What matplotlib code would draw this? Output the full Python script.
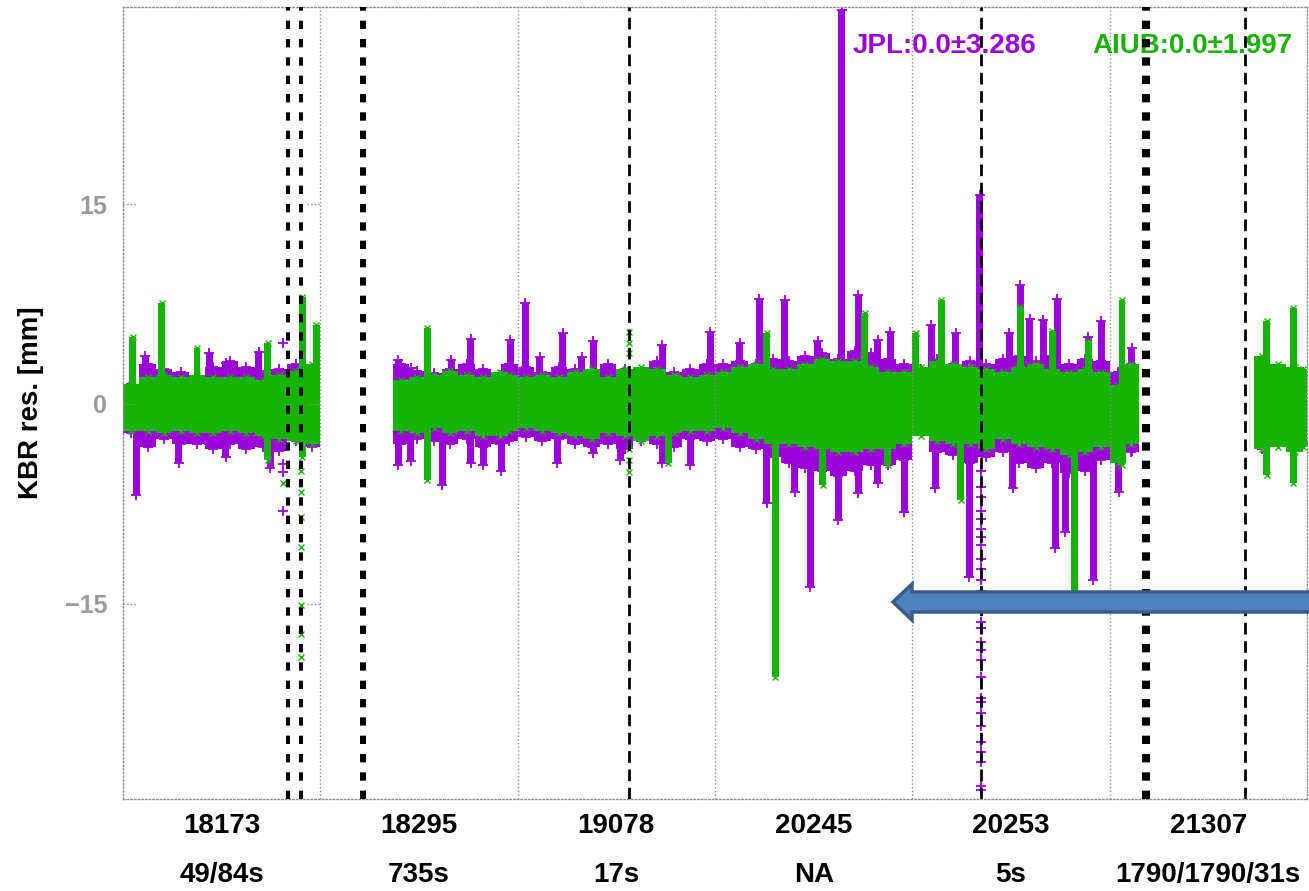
import numpy as np
import matplotlib
matplotlib.use('Agg')
import matplotlib.pyplot as plt
from matplotlib.patches import FancyArrow

plt.rcParams['font.family'] = ['Liberation Sans', 'DejaVu Sans']
plt.rcParams['font.weight'] = 'bold'
plt.rcParams['lines.scale_dashes'] = False

# x is in hours, one 24 h arc per panel
arc_date = ['18173', '18295', '19078', '20245', '20253', '21307']
arc_info = ['49/84s', '735s', '17s', 'NA', '5s', '1790/1790/31s']

# background band of the residuals (2 h bins)
base_x = [1, 3, 5, 7, 9, 11, 13, 15, 17, 19, 21, 23,
          33.8, 35.8, 37.8, 39.8, 41.8, 43.8, 45.8, 47.0,
          49, 51, 53, 55, 57, 59, 61, 63, 65, 67, 69, 71,
          73, 75, 77, 79, 81, 83, 85, 87, 89, 91, 93, 95,
          97, 99, 101, 103, 105, 107, 109, 111, 113, 115, 117, 119,
          121.0, 122.6,
          138.5, 140.5, 142.5, 143.5]
jpl_hi = [1.5, 3.0, 2.6, 2.4, 2.0, 2.8, 3.2, 2.8, 2.2, 2.6, 3.0, 2.5,
          3.0, 2.5, 2.3, 2.6, 3.0, 2.6, 2.2, 3.0,
          2.8, 2.4, 2.8, 2.6, 2.2, 3.0, 2.6, 2.4, 3.2, 2.4, 2.6, 3.0,
          3.0, 3.2, 3.0, 3.4, 3.2, 3.6, 3.8, 3.4, 4.0, 3.8, 3.4, 3.0,
          2.6, 3.4, 3.0, 3.2, 3.0, 3.4, 3.6, 3.2, 3.6, 3.0, 3.4, 3.2,
          2.4, 3.0,
          2.6, 2.0, 2.2, 2.4]
jpl_lo = [-2.2, -3.2, -2.6, -3.0, -3.0, -3.4, -3.0, -3.4, -3.2, -3.5, -2.8, -3.2,
          -3.0, -2.6, -2.8, -3.0, -2.6, -3.2, -3.0, -2.8,
          -2.5, -2.8, -2.6, -3.0, -3.2, -3.0, -3.4, -2.8, -3.0, -3.2, -2.6, -2.8,
          -2.6, -3.2, -3.4, -4.0, -4.4, -4.8, -5.0, -5.4, -5.0, -4.6, -4.6, -4.2,
          -1.8, -3.6, -3.8, -4.4, -4.0, -3.6, -4.4, -4.8, -4.4, -5.2, -5.0, -4.2,
          -4.0, -3.6,
          -3.4, -2.8, -3.2, -3.0]
aiub_hi = [1.5, 2.0, 2.2, 2.0, 2.2, 2.0, 2.0, 2.0, 1.8, 2.2, 2.5, 3.0,
           1.8, 2.0, 2.2, 2.5, 2.2, 2.0, 2.4, 2.2,
           2.0, 2.2, 2.0, 2.4, 2.6, 2.0, 2.6, 2.8, 2.6, 2.2, 2.0, 2.2,
           2.4, 2.8, 3.0, 2.6, 2.6, 3.0, 3.4, 3.2, 3.2, 2.8, 2.4, 2.4,
           2.8, 3.2, 3.0, 2.8, 2.6, 2.4, 2.8, 3.0, 2.6, 2.4, 2.6, 2.4,
           1.4, 3.0,
           3.6, 3.0, 2.8, 2.6]
aiub_lo = [-2.0, -2.0, -2.2, -2.0, -2.2, -2.2, -2.0, -2.2, -2.4, -2.6, -2.8, -3.0,
           -2.0, -2.2, -1.8, -2.2, -2.0, -2.4, -2.4, -2.0,
           -1.8, -2.0, -2.2, -2.4, -2.6, -2.2, -2.4, -2.8, -2.4, -2.2, -2.0, -2.0,
           -1.8, -2.2, -2.6, -3.0, -3.0, -3.2, -3.4, -3.6, -3.6, -3.4, -3.4, -3.0,
           -2.4, -2.8, -3.0, -3.0, -3.4, -2.6, -3.0, -3.2, -3.4, -3.8, -3.6, -3.2,
           -4.4, -3.0,
           -3.4, -3.2, -3.6, -3.2]

# short excursions
jpl_spk_x = [1.6, 2.7, 6.8, 10.5, 12.5, 16.5, 17.9,
             33.5, 35.0, 38.8, 39.9, 42.3, 43.8, 46.0, 47.1,
             48.9, 50.7, 52.8, 53.5, 55.8, 57.2, 60.5, 65.6, 69.0, 71.4,
             75.0, 77.4, 78.3, 80.5, 81.7, 83.6, 84.5, 87.0, 87.4, 89.4, 91.8, 93.3, 95.0,
             98.3, 98.8, 101.3, 102.9, 104.2, 107.8, 108.2, 109.1, 110.3, 111.9, 113.4,
             113.6, 114.6, 117.4, 118.0, 119.0,
             121.1, 122.7]
jpl_spk_top = [0, 3.6, 0, 3.8, 3.1, 3.9, 0,
               3.3, 2.7, 0, 3.3, 4.9, 0, 0, 4.8,
               7.6, 3.5, 0, 5.3, 3.5, 4.7, 0, 4.4, 0, 5.4,
               4.6, 7.9, 0, 7.8, 0, 0, 4.7, 0, 29.6, 8.2, 4.8, 5.4, 0,
               5.9, 0, 5.3, 0, 15.7, 5.3, 0, 8.9, 6.4, 6.3, 0,
               7.9, 0, 5.0, 0, 6.2,
               0, 4.2]
jpl_spk_bot = [-6.8, 0, -4.4, -3.0, -4.0, 0, -4.8,
               -4.6, -4.3, -6.1, 0, -4.4, -4.6, -5.0, 0,
               0, 0, -4.4, 0, 0, -3.7, -4.2, -4.4, -4.6, 0,
               0, 0, -7.4, 0, -6.6, -13.7, 0, -8.7, 0, -6.7, -5.9, 0, -8.1,
               0, -6.3, 0, -13.0, 0, 0, -6.3, 0, 0, 0, -10.8,
               0, -9.6, 0, -13.2, 0,
               -6.6, -3.5]

aiub_spk_x = [1.2, 4.7, 9.0, 17.6, 21.8, 23.5,
              37.0,
              66.3,
              78.3, 79.3, 85.1, 90.2, 93.0,
              96.4, 99.5, 101.9, 109.1, 113.0, 115.7, 117.4,
              121.5, 139.1, 142.3]
aiub_spk_top = [5.0, 7.6, 4.2, 4.6, 8.0, 5.9,
                5.7,
                0,
                5.3, 0, 0, 6.8, 0,
                5.3, 7.8, 0, 7.3, 5.5, 0, 4.7,
                7.8, 6.2, 7.2]
aiub_spk_bot = [0, 0, 0, -4.2, -4.0, 0,
                -5.7,
                -4.4,
                0, -20.5, -6.1, 0, -4.6,
                0, 0, -7.2, 0, 0, -14.1, 0,
                -4.6, -5.3, -5.9]

# single outliers
jpl_pts_x = [19.5] * 4 + [104.4] * 27
jpl_pts_y = [4.6, -4.5, -5.1, -8.0,
             -5.0, -6.2, -7.0, -8.0, -8.6, -9.4, -10.0, -10.6, -11.6, -12.4, -13.2, -14.0,
             -16.4, -16.8, -17.9, -18.5, -19.2, -20.5, -22.1, -22.4, -23.2, -24.2, -25.4,
             -26.1, -26.9, -28.7, -29.0]
aiub_pts_x = [19.5] + [21.6] * 7 + [61.5] * 6
aiub_pts_y = [-5.9, -5.0, -6.6, -8.5, -10.7, -15.1, -17.3, -19.0,
              5.4, 4.6, 3.8, -3.4, -4.2, -5.1]

# arc boundaries / manoeuvre markers
event_x = [20.1, 21.6, 29.2, 61.5, 104.4, 124.4, 136.4]
event_lw = [2.9, 2.9, 4.3, 2.0, 2.0, 5.8, 2.0]

jpl_col = '#9b00d9'
aiub_col = '#16b300'
grid_col = '#8c8c8c'

fig = plt.figure(figsize=(13.09, 8.91), dpi=100)
ax = fig.add_axes([123 / 1309, 1 - 799 / 891, 1184 / 1309, 792 / 891])


def draw(col, mk, bx, hi, lo, sx, st, sb, px, py, ms, mew):
    bx = np.array(bx); hi = np.array(hi); lo = np.array(lo)
    ax.bar(bx, hi - lo, bottom=lo, width=2.0, color=col, lw=0, zorder=2)
    ax.plot(bx, hi, mk, color=col, ms=ms, mew=mew, ls='none', zorder=2)
    ax.plot(bx, lo, mk, color=col, ms=ms, mew=mew, ls='none', zorder=2)
    sx = np.array(sx); st = np.array(st); sb = np.array(sb)
    w = np.where(st > 20, 0.9, 0.85)
    ax.bar(sx, st - sb, bottom=sb, width=w, color=col, lw=0, zorder=2)
    ax.plot(sx[st != 0], st[st != 0], mk, color=col, ms=ms, mew=mew, ls='none', zorder=2)
    ax.plot(sx[sb != 0], sb[sb != 0], mk, color=col, ms=ms, mew=mew, ls='none', zorder=2)
    ax.plot(px, py, mk, color=col, ms=ms, mew=mew, ls='none', zorder=2)


draw(jpl_col, '+', base_x, jpl_hi, jpl_lo, jpl_spk_x, jpl_spk_top, jpl_spk_bot,
     jpl_pts_x, jpl_pts_y, 7, 1.3)
draw(aiub_col, 'x', base_x, aiub_hi, aiub_lo, aiub_spk_x, aiub_spk_top, aiub_spk_bot,
     aiub_pts_x, aiub_pts_y, 5, 1.0)

# panel frames
for k in range(1, 6):
    ax.axvline(24 * k, color=grid_col, ls=':', lw=1, zorder=3)
for s in ax.spines.values():
    s.set_linestyle(':')
    s.set_color(grid_col)
    s.set_linewidth(1)

for x, lw in zip(event_x, event_lw):
    if lw > 2.5:
        ax.axvline(x, color='black', lw=lw, dashes=(6, 7.2), zorder=5)
    else:
        ax.axvline(x, color='black', lw=lw, dashes=(8.4, 4.8), zorder=5)

for yv in [-15, 0, 15]:
    ax.plot([0, 1.6], [yv, yv], color=grid_col, ls=':', lw=1, zorder=3)
    ax.plot([22.4, 24], [yv, yv], color=grid_col, ls=':', lw=1, zorder=3)

ax.set_xlim(0, 144)
ax.set_ylim(-29.65, 29.8)
ax.set_xticks([])
ax.set_yticks([-15, 0, 15])
ax.set_yticklabels(['\u221215', '0', '15'])
ax.tick_params(axis='y', length=0, pad=11.5, labelsize=18, labelcolor='#9a9a9a')

ax.text(-0.0777, 0.5, 'KBR res. [mm]', rotation=90, ha='center', va='center',
        fontsize=20, transform=ax.transAxes)

for i in range(6):
    ax.text(24 * i + 12, -0.034, arc_date[i], ha='center', va='center', fontsize=20,
            transform=ax.get_xaxis_transform())
    ax.text(24 * i + 12, -0.096, arc_info[i], ha='center', va='center', fontsize=20,
            transform=ax.get_xaxis_transform())

ax.text(88.7, 26.9, 'JPL:0.0\u00b13.286', color=jpl_col, fontsize=20, ha='left',
        va='center', zorder=1)
ax.text(117.9, 26.9, 'AIUB:0.0\u00b11.997', color=aiub_col, fontsize=20, ha='left',
        va='center', zorder=1)

arr = FancyArrow(1.01, 1 - 602 / 891, -(1.01 - 893 / 1309), 0, width=20 / 891,
                 head_width=36 / 891, head_length=19 / 1309, length_includes_head=True,
                 transform=fig.transFigure, fc='#4f81bd', ec='#385d8a', lw=2.5, zorder=10)
fig.add_artist(arr)

fig.savefig('out.png', dpi=100)
